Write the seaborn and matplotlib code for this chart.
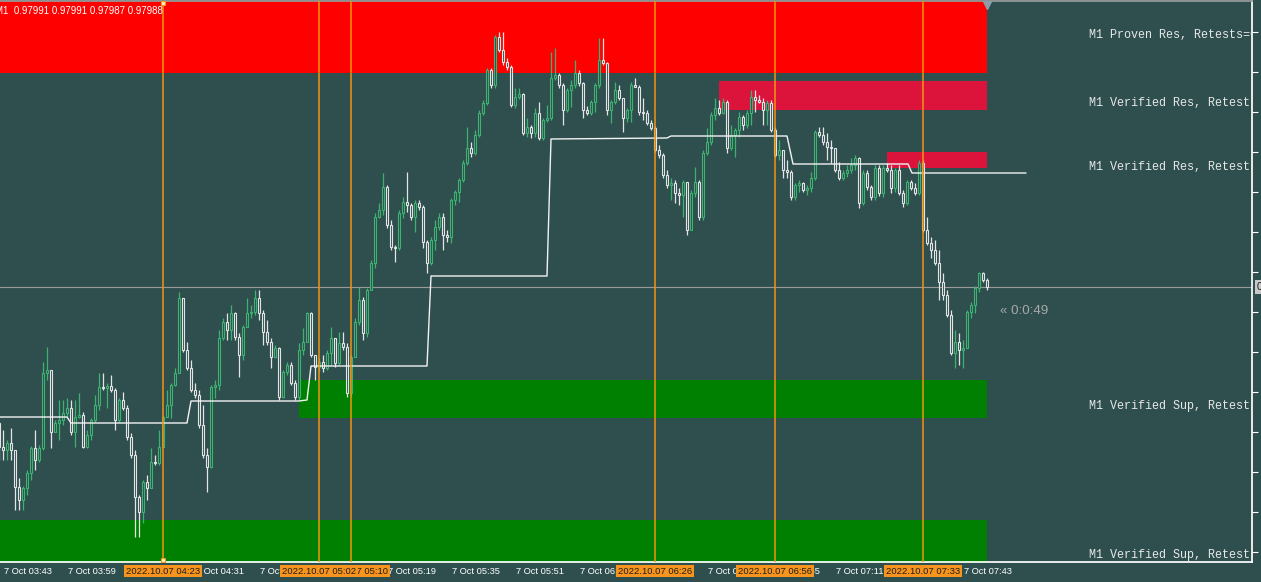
import numpy as np
import pandas as pd
import matplotlib
matplotlib.use("Agg")
import matplotlib.pyplot as plt
import matplotlib.transforms as mtransforms
import seaborn as sns

# ==========================
# Data: M1 candles (prices in points, 1 point = 0.00001)
# ==========================
start_time = "2022-10-07 03:42"
first_open = 97852

closes = [
    97828, 97825, 97832, 97825, 97788, 97775, 97787, 97802, 97827, 97815, 97827,
    97902, 97905, 97843, 97852, 97855, 97862, 97867, 97843, 97858, 97860,
    97828, 97840, 97855, 97870, 97888, 97887, 97889, 97885, 97855, 97875,
    97867, 97838, 97820, 97778, 97763, 97793, 97787, 97813, 97812, 97828,
    97858, 97870, 97890, 97902, 97977, 97925, 97907, 97885, 97880, 97850,
    97820, 97808, 97888, 97890, 97937, 97953, 97945, 97962, 97938, 97920,
    97948, 97962, 97963, 97977, 97962, 97943, 97933, 97918, 97927, 97878,
    97903, 97910, 97892, 97878, 97925, 97933, 97962, 97920, 97908, 97913,
    97907, 97922, 97937, 97912, 97932, 97928, 97882, 97918, 97953, 97975,
    97942, 97985, 98012, 98058, 98065, 98088, 98050, 98028, 98027, 98062,
    98073, 98070, 98058, 98072, 98068, 98033, 98012, 98035, 98048, 98058,
    98040, 98038, 98075, 98083, 98095, 98112, 98127, 98122, 98140, 98162,
    98172, 98205, 98190, 98238, 98225, 98213, 98208, 98170, 98178, 98181,
    98142, 98148, 98142, 98162, 98137, 98155, 98157, 98197, 98200, 98190,
    98165, 98185, 98190, 98202, 98192, 98165, 98162, 98173, 98190, 98215,
    98212, 98165, 98173, 98185, 98177, 98157, 98165, 98190, 98188, 98163,
    98162, 98152, 98147, 98125, 98120, 98100, 98090, 98092, 98082, 98080,
    98093, 98045, 98082, 98093, 98058, 98122, 98133, 98160, 98167, 98162,
    98173, 98127, 98140, 98145, 98158, 98150, 98162, 98178, 98175, 98173,
    98165, 98172, 98145, 98120, 98125, 98105, 98103, 98078, 98090, 98092,
    98085, 98087, 98097, 98143, 98140, 98133, 98128, 98127, 98105, 98097,
    98102, 98105, 98110, 98117, 98072, 98102, 98088, 98078, 98107, 98082,
    98107, 98105, 98087, 98105, 98082, 98072, 98093, 98087, 98082, 98112,
    98045, 98032, 98025, 98012, 97993, 97980, 97960, 97922, 97933, 97925,
    97927, 97963, 97970, 97987, 98002, 97995, 97988,
]

highs = [
    97853, 97845, 97835, 97847, 97823, 97797, 97789, 97805, 97829, 97845, 97830,
    97913, 97928, 97905, 97855, 97875, 97875, 97877, 97875, 97875, 97882,
    97863, 97845, 97857, 97880, 97902, 97902, 97892, 97900, 97887, 97877,
    97883, 97870, 97842, 97825, 97780, 97795, 97800, 97827, 97820, 97845,
    97860, 97885, 97892, 97907, 97983, 97977, 97933, 97915, 97892, 97885,
    97870, 97827, 97890, 97895, 97945, 97957, 97962, 97970, 97963, 97942,
    97950, 97977, 97970, 97985, 97985, 97965, 97955, 97937, 97930, 97928,
    97905, 97913, 97913, 97895, 97932, 97947, 97963, 97963, 97920, 97917,
    97920, 97925, 97948, 97935, 97943, 97943, 97932, 97920, 97957, 97988,
    97978, 97987, 98015, 98062, 98072, 98102, 98090, 98055, 98030, 98065,
    98078, 98103, 98072, 98075, 98075, 98070, 98035, 98038, 98055, 98062,
    98062, 98045, 98077, 98085, 98097, 98115, 98148, 98133, 98145, 98165,
    98175, 98207, 98207, 98240, 98243, 98243, 98217, 98210, 98187, 98187,
    98182, 98157, 98150, 98167, 98173, 98157, 98170, 98223, 98227, 98202,
    98192, 98187, 98195, 98215, 98205, 98193, 98169, 98175, 98192, 98237,
    98237, 98213, 98175, 98193, 98190, 98177, 98167, 98193, 98197, 98190,
    98177, 98165, 98155, 98149, 98130, 98122, 98105, 98097, 98095, 98087,
    98095, 98087, 98085, 98108, 98095, 98125, 98147, 98163, 98177, 98175,
    98177, 98175, 98150, 98147, 98163, 98160, 98165, 98185, 98185, 98180,
    98177, 98175, 98175, 98148, 98135, 98120, 98115, 98105, 98092, 98095,
    98093, 98090, 98103, 98145, 98148, 98148, 98142, 98135, 98125, 98113,
    98105, 98110, 98117, 98120, 98118, 98105, 98105, 98090, 98110, 98110,
    98110, 98112, 98110, 98107, 98110, 98085, 98095, 98095, 98092, 98115,
    98115, 98058, 98038, 98035, 98025, 98002, 97985, 97965, 97945, 97942,
    97935, 97965, 97973, 97989, 98003, 98003, 97997,
]

lows = [
    97815, 97815, 97815, 97815, 97765, 97765, 97765, 97780, 97795, 97805, 97813,
    97825, 97895, 97827, 97843, 97835, 97850, 97857, 97840, 97828, 97857,
    97827, 97827, 97835, 97853, 97865, 97885, 97867, 97883, 97845, 97853,
    97865, 97835, 97817, 97738, 97738, 97752, 97775, 97788, 97810, 97810,
    97828, 97860, 97857, 97889, 97903, 97923, 97905, 97883, 97877, 97847,
    97817, 97783, 97807, 97877, 97885, 97935, 97935, 97935, 97935, 97898,
    97915, 97950, 97957, 97960, 97955, 97930, 97930, 97907, 97917, 97875,
    97877, 97900, 97890, 97875, 97875, 97920, 97933, 97918, 97895, 97903,
    97903, 97905, 97910, 97908, 97910, 97925, 97878, 97878, 97918, 97950,
    97935, 97938, 97985, 98007, 98057, 98060, 98047, 98025, 98013, 98025,
    98057, 98063, 98055, 98043, 98065, 98027, 98002, 98010, 98025, 98045,
    98025, 98033, 98032, 98070, 98073, 98093, 98110, 98118, 98120, 98138,
    98160, 98170, 98187, 98187, 98223, 98210, 98205, 98168, 98167, 98176,
    98140, 98138, 98137, 98138, 98135, 98135, 98153, 98155, 98195, 98187,
    98150, 98163, 98168, 98187, 98189, 98157, 98160, 98160, 98163, 98187,
    98210, 98160, 98152, 98171, 98175, 98143, 98153, 98153, 98188, 98160,
    98155, 98150, 98145, 98123, 98117, 98097, 98087, 98075, 98072, 98070,
    98058, 98040, 98045, 98078, 98055, 98055, 98120, 98130, 98155, 98160,
    98161, 98122, 98125, 98118, 98138, 98145, 98147, 98150, 98163, 98172,
    98150, 98150, 98143, 98118, 98115, 98097, 98097, 98075, 98075, 98083,
    98083, 98080, 98083, 98095, 98138, 98130, 98115, 98112, 98103, 98095,
    98095, 98098, 98102, 98105, 98067, 98070, 98085, 98075, 98075, 98079,
    98078, 98103, 98082, 98083, 98080, 98068, 98070, 98085, 98080, 98080,
    98043, 98030, 98017, 98010, 97975, 97975, 97958, 97920, 97907, 97910,
    97907, 97927, 97957, 97962, 97983, 97993, 97985,
]

# supply / demand zones
zone_labels = ["M1 Proven Res, Retests=0", "M1 Verified Res, Retest",
               "M1 Verified Res, Retest", "M1 Verified Sup, Retest",
               "M1 Verified Sup, Retest"]
zone_tops = [98290, 98194, 98123, 97895, 97755]
zone_bottoms = [98202, 98165, 98107, 97857, 97700]
zone_starts = ["03:30", "06:42", "07:24", "04:57", "03:30"]
zone_label_prices = [98240, 98172, 98108, 97869, 97720]
zone_colors = ["#FF0000", "#DC143C", "#DC143C", "#008000", "#008000"]

# white step indicator (minutes from start, price)
line_minutes = [-0.5, 17, 18, 47, 48, 75, 77, 78, 107, 108, 137, 138,
                167, 168, 197, 198.5, 227.25, 228.25, 256.75]
line_prices = [97858, 97858, 97852, 97852, 97874, 97874, 97875, 97909,
               97909, 97999, 97999, 98136, 98137, 98139, 98139, 98111,
               98111, 98102, 98102]

# vertical time lines
vline_times = ["05:10", "04:23", "05:02", "06:26", "06:56", "07:33"]

header = "M1  0.97991 0.97991 0.97987 0.97988"
timer_text = "\u00ab 0:0:49"

# ==========================
# Prepare
# ==========================
bg = "#2F4F4F"
t0 = pd.Timestamp(start_time)


def to_min(hhmm):
    return (pd.Timestamp("2022-10-07 " + hhmm) - t0).total_seconds() / 60


c = np.array(closes) / 1e5
o = np.r_[first_open, closes[:-1]] / 1e5
h = np.maximum(np.array(highs) / 1e5, np.maximum(o, c))
l = np.minimum(np.array(lows) / 1e5, np.minimum(o, c))
pos = np.arange(len(c))

df = pd.DataFrame({"pos": pos, "open": o, "high": h, "low": l, "close": c})
df["bull"] = df["close"] >= df["open"]
df["color"] = np.where(df["bull"], "#3CB371", "#E4E4E4")

# ==========================
# Plot
# ==========================
sns.set_theme(style="dark", rc={
    "axes.facecolor": bg,
    "figure.facecolor": bg,
    "axes.edgecolor": "white",
    "xtick.color": "white",
    "ytick.color": "white",
})
plt.rcParams["font.family"] = ["Liberation Sans", "DejaVu Sans"]

fig = plt.figure(figsize=(12.61, 5.82), dpi=100)
ax = fig.add_axes([0, 20 / 582, 1252 / 1261, 561 / 582])
ax.set_facecolor(bg)

xmin, xmax = 0.25, 313.25
ymin, ymax = 0.97713, 0.98274
ax.set_xlim(xmin, xmax)
ax.set_ylim(ymin, ymax)

last_pos = pos[-1]

# zones
for lab, top, bot, st, lp, col in zip(zone_labels, zone_tops, zone_bottoms,
                                      zone_starts, zone_label_prices, zone_colors):
    x0 = max(to_min(st), xmin - 2)
    ax.fill_between([x0, last_pos], bot / 1e5, top / 1e5, color=col,
                    linewidth=0, zorder=1)
    ax.text(272.5, lp / 1e5, lab, family="Liberation Mono", fontsize=8.5,
            color="#E8E8E8", ha="left", va="center", zorder=6, clip_on=True)

# bid line
ax.axhline(c[-1], color="#9A9A9A", linewidth=0.8, zorder=2)

# candles
ax.vlines(df["pos"], df["low"], df["high"], colors=df["color"],
          linewidth=0.9, zorder=3)
ax.bar(df["pos"], df["close"] - df["open"], bottom=df["open"], width=0.55,
       color=bg, edgecolor=df["color"], linewidth=0.8, zorder=3)

# indicator line
line_df = pd.DataFrame({"m": line_minutes, "p": np.array(line_prices) / 1e5})
sns.lineplot(data=line_df, x="m", y="p", ax=ax, color="#F2F2F2",
             linewidth=1, sort=False, estimator=None, zorder=4)

# vertical lines with time labels
blend = mtransforms.blended_transform_factory(ax.transData, ax.transAxes)
for tm in vline_times:
    xm = to_min(tm)
    ax.axvline(xm, color="#F29410", linewidth=1.1, zorder=5)
    ax.text(xm, -9 / 561, "2022.10.07 " + tm, transform=blend, fontsize=6.8,
            color="#1E1E1E", ha="center", va="center", zorder=9, clip_on=False,
            bbox=dict(boxstyle="square,pad=0.2", facecolor="#F7941D",
                      edgecolor="none"))

sel = to_min("04:23")
ax.plot([sel, sel], [0.996, 0.004], "s", ms=3.5, mfc="#FFF4C8", mec="#F0961E",
        mew=0.8, transform=blend, clip_on=False, zorder=7)

# chart shift marker
ax.plot([last_pos], [0.992], "v", ms=6, color="#8E9BA8", transform=blend,
        clip_on=False, zorder=7)

# time axis
tick_pos = np.arange(1, 250, 16)
ax.set_xticks(tick_pos)
ax.set_xticklabels([])
ax.tick_params(axis="x", direction="out", length=4, width=0.8, colors="white")
for p in tick_pos:
    t = t0 + pd.Timedelta(minutes=int(p))
    ax.text(p + 0.3, -9 / 561, f"{t.day} {t:%b %H:%M}", transform=blend,
            fontsize=6.7, color="white", ha="left", va="center", zorder=8,
            clip_on=False)

# price axis
ax.yaxis.tick_right()
yt = (98243 - 40 * np.arange(14)) / 1e5
ax.set_yticks(yt)
ax.set_yticklabels([f"{v:.5f}" for v in yt])
ax.tick_params(axis="y", direction="out", length=4, width=0.8, colors="white",
               labelsize=7.5, pad=2)
ax.text(1.004, c[-1], f"{c[-1]:.5f}", transform=mtransforms.blended_transform_factory(
        ax.transAxes, ax.transData), fontsize=7.5, color="#1E1E1E", ha="left",
        va="center", clip_on=False,
        bbox=dict(boxstyle="square,pad=0.15", facecolor="#C8C8C8", edgecolor="none"))

ax.set_xlabel("")
ax.set_ylabel("")
ax.grid(False)
ax.spines["left"].set_visible(False)
ax.spines["top"].set_color("#9A9A9A")
ax.spines["right"].set_color("white")
ax.spines["bottom"].set_color("white")

# texts
ax.text(-0.004, 0.982, header, transform=ax.transAxes, fontsize=7,
        color="white", ha="left", va="center", zorder=8)
ax.text(250.25, 0.97964, timer_text, fontsize=9.6, color="#A9A9A9",
        ha="left", va="center", zorder=6)

fig.savefig("out.png", dpi=100, facecolor=bg)
